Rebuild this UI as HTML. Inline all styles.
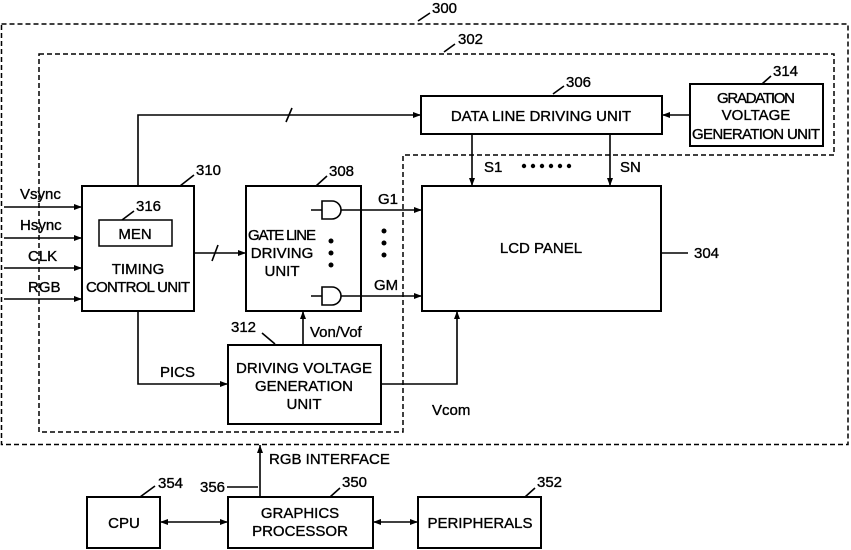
<!DOCTYPE html>
<html><head><meta charset="utf-8"><style>
html,body{margin:0;padding:0;background:#fff}
svg{display:block}
text{font-family:"Liberation Sans",sans-serif;font-size:15px;fill:#000;stroke:#000;stroke-width:0.35}
</style></head><body>
<svg width="851" height="550" viewBox="0 0 851 550" xmlns="http://www.w3.org/2000/svg">
<defs>
<marker id="a" markerWidth="8" markerHeight="6" refX="8" refY="3" orient="auto" markerUnits="userSpaceOnUse"><path d="M0,0 L8,3 L0,6 z" fill="#000"/></marker>
<marker id="s" markerWidth="8" markerHeight="6" refX="0" refY="3" orient="auto" markerUnits="userSpaceOnUse"><path d="M8,0 L0,3 L8,6 z" fill="#000"/></marker>
</defs>
<g fill="none" stroke="#000" stroke-width="1.5" stroke-dasharray="5,3">
<rect x="1.5" y="24" width="846.5" height="420.5"/>
<path d="M39,54 H834 V155 H403 V432 H39 Z"/>
</g>
<g fill="none" stroke="#000" stroke-width="2">
<rect x="421" y="96" width="241" height="38"/>
<rect x="690" y="84" width="133" height="62"/>
<rect x="422" y="186" width="239" height="125"/>
<rect x="82" y="186" width="112" height="125"/>
<rect x="99" y="220" width="73" height="26" stroke-width="1.5"/>
<rect x="246" y="186" width="115" height="125"/>
<rect x="228" y="345" width="153" height="79"/>
<rect x="87" y="497" width="73" height="51"/>
<rect x="228" y="497" width="145" height="51"/>
<rect x="418" y="497" width="123" height="51"/>
</g>
<g fill="none" stroke="#000" stroke-width="1.6">
<path d="M138,186 V115 H421" marker-end="url(#a)"/>
<path d="M286,122 L292,108"/>
<path d="M690,115 H662" marker-end="url(#a)"/>
<path d="M472,134 V186" marker-end="url(#a)"/>
<path d="M610,134 V186" marker-end="url(#a)"/>
<path d="M4,207 H82" marker-end="url(#a)"/>
<path d="M4,238 H82" marker-end="url(#a)"/>
<path d="M4,268 H82" marker-end="url(#a)"/>
<path d="M4,299 H82" marker-end="url(#a)"/>
<path d="M194,253 H246" marker-end="url(#a)"/>
<path d="M212,261 L218,245"/>
<path d="M311,210 H322 M311,296 H322"/>
<path d="M322,201 H332 A9,9 0 0 1 332,219 H322 Z"/>
<path d="M322,287 H332 A9,9 0 0 1 332,305 H322 Z"/>
<path d="M341,210 H422" marker-end="url(#a)"/>
<path d="M341,296 H422" marker-end="url(#a)"/>
<path d="M303,345 V311" marker-end="url(#a)"/>
<path d="M138,311 V384 H228" marker-end="url(#a)"/>
<path d="M381,384 H457 V311" marker-end="url(#a)"/>
<path d="M260,497 V445" marker-end="url(#a)"/>
<path d="M160,522 H228" marker-start="url(#s)" marker-end="url(#a)"/>
<path d="M373,522 H418" marker-start="url(#s)" marker-end="url(#a)"/>
<path d="M661,253 H688"/>
<path d="M140,497 L155,486 M227,487 H258"/>
<path d="M418,21 L430,13 M444,52 L455,44 M553,94 L564,86 M762,84 L771,76"/>
<path d="M180,186 L194,175 M316,186 L327,176 M262,333 L275,344 M122,220 L134,211 M330,497 L340,488 M525,497 L535,488"/>
</g>
<g fill="#000">
<circle cx="331" cy="241" r="2.5"/><circle cx="331" cy="253" r="2.5"/><circle cx="331" cy="265" r="2.5"/>
<circle cx="384" cy="231" r="2.5"/><circle cx="384" cy="243" r="2.5"/><circle cx="384" cy="255" r="2.5"/>
<circle cx="524" cy="166" r="2.2"/><circle cx="533" cy="166" r="2.2"/><circle cx="542" cy="166" r="2.2"/><circle cx="551" cy="166" r="2.2"/><circle cx="560" cy="166" r="2.2"/><circle cx="569" cy="166" r="2.2"/>
</g>
<g text-anchor="middle">
<text x="541" y="121">DATA LINE DRIVING UNIT</text>
<text x="756" y="103" textLength="78">GRADATION</text>
<text x="756" y="120">VOLTAGE</text>
<text x="756" y="139" textLength="128">GENERATION UNIT</text>
<text x="541" y="253">LCD PANEL</text>
<text x="135" y="239">MEN</text>
<text x="138" y="274">TIMING</text>
<text x="138" y="292" textLength="104">CONTROL UNIT</text>
<text x="282" y="240" textLength="68">GATE LINE</text>
<text x="282" y="258">DRIVING</text>
<text x="282" y="276">UNIT</text>
<text x="304" y="373" textLength="136">DRIVING VOLTAGE</text>
<text x="304" y="391">GENERATION</text>
<text x="304" y="409">UNIT</text>
<text x="124" y="528">CPU</text>
<text x="300" y="518">GRAPHICS</text>
<text x="300" y="536">PROCESSOR</text>
<text x="480" y="528">PERIPHERALS</text>
</g>
<g>
<text x="432" y="13">300</text>
<text x="458" y="44">302</text>
<text x="566" y="87">306</text>
<text x="773" y="76">314</text>
<text x="694" y="258">304</text>
<text x="196" y="175">310</text>
<text x="329" y="176">308</text>
<text x="136" y="211">316</text>
<text x="231" y="332">312</text>
<text x="20" y="199">Vsync</text>
<text x="20" y="230">Hsync</text>
<text x="28" y="261">CLK</text>
<text x="28" y="292">RGB</text>
<text x="378" y="204">G1</text>
<text x="374" y="290">GM</text>
<text x="484" y="172">S1</text>
<text x="620" y="172">SN</text>
<text x="310" y="337">Von/Vof</text>
<text x="160" y="377">PICS</text>
<text x="432" y="415">Vcom</text>
<text x="269" y="464">RGB INTERFACE</text>
<text x="158" y="488">354</text>
<text x="200" y="492">356</text>
<text x="342" y="487">350</text>
<text x="537" y="487">352</text>
</g>
</svg>
</body></html>
